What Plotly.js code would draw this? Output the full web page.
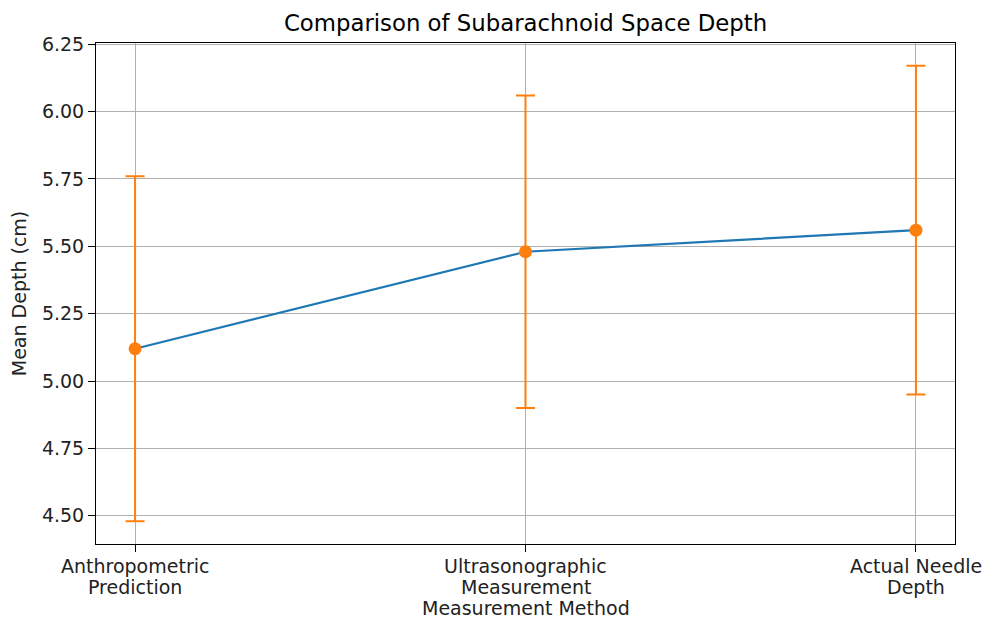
<!DOCTYPE html>
<html>
<head>
<meta charset="utf-8">
<script src="https://cdn.plot.ly/plotly-3.0.1.min.js"></script>
<style>html,body{margin:0;padding:0;background:#fff}#chart{width:985px;height:619px}</style>
</head>
<body>
<div id="chart"></div>
<script>
const categories = ["Anthropometric\nPrediction", "Ultrasonographic\nMeasurement", "Actual Needle\nDepth"];
const meanDepth = [5.12, 5.48, 5.56];
const errorDepth = [0.64, 0.58, 0.61];
const yTicks = [4.50, 4.75, 5.00, 5.25, 5.50, 5.75, 6.00, 6.25];

const xIdx = categories.map((_, i) => i);
const font = {family: "DejaVu Sans, sans-serif", size: 19, color: "#222"};

const W = 985, H = 619, M = {l: 96, r: 30, t: 43, b: 75};
const plotH = H - M.t - M.b;
const pxToPaperY = py => -(py - (H - M.b)) / plotH;

const traces = [
  {x: xIdx, y: meanDepth, type: "scatter", mode: "lines",
   line: {color: "#1f77b4", width: 2.2}, hoverinfo: "skip", showlegend: false},
  {x: xIdx, y: meanDepth, type: "scatter", mode: "markers",
   marker: {color: "#ff7f0e", size: 13},
   error_y: {type: "data", array: errorDepth, visible: true, color: "#ff7f0e", thickness: 2, width: 9.5},
   showlegend: false}
];

// x tick labels (two lines each, matplotlib-like tight line spacing)
const annotations = [];
categories.forEach((c, i) => {
  c.split("\n").forEach((line, j) => {
    annotations.push({x: i, xref: "x", y: pxToPaperY(566 + j * 21), yref: "paper",
      text: line, showarrow: false, font: font, xanchor: "center", yanchor: "middle", borderpad: 0});
  });
});
annotations.push({x: 0.5, xref: "paper", y: pxToPaperY(608), yref: "paper",
  text: "Measurement Method", showarrow: false, font: font, xanchor: "center", yanchor: "middle", borderpad: 0});

const layout = {
  width: W, height: H,
  margin: M,
  paper_bgcolor: "#fff", plot_bgcolor: "#fff",
  font: font,
  title: {text: "Comparison of Subarachnoid Space Depth", font: {family: "DejaVu Sans, sans-serif", size: 22.8, color: "#000"}, x: 0.5, xref: "paper", xanchor: "center", y: 1 - 23/619, yanchor: "middle"},
  xaxis: {
    range: [-0.1, 2.1], tickvals: xIdx, showticklabels: false,
    showgrid: true, gridcolor: "#b0b0b0", gridwidth: 1,
    showline: true, linecolor: "#000", linewidth: 1, mirror: true,
    ticks: "outside", ticklen: 7, tickcolor: "#000", zeroline: false,
    automargin: false
  },
  yaxis: {
    range: [4.3955, 6.2545], tickvals: yTicks, ticktext: yTicks.map(v => v.toFixed(2)),
    showgrid: true, gridcolor: "#b0b0b0", gridwidth: 1,
    showline: true, linecolor: "#000", linewidth: 1, mirror: true,
    ticks: "outside", ticklen: 7, tickcolor: "#000", zeroline: false,
    tickfont: font, automargin: false,
    title: {text: "Mean Depth (cm)", font: font, standoff: 10}
  },
  annotations: annotations
};

Plotly.newPlot("chart", traces, layout, {displayModeBar: false, staticPlot: true});
</script>
</body>
</html>
